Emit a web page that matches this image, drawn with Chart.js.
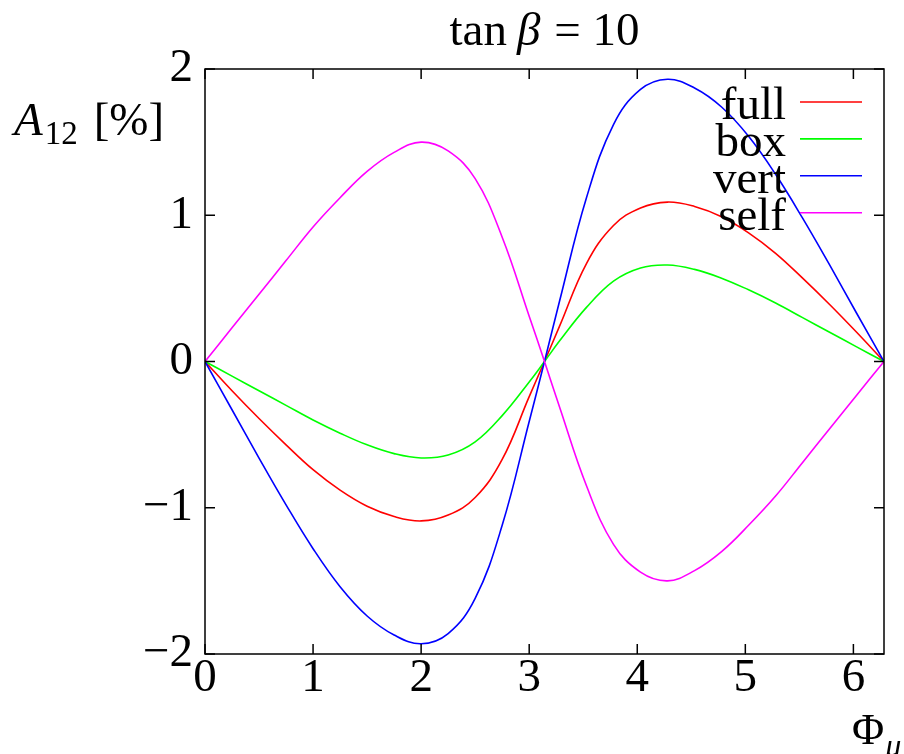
<!DOCTYPE html>
<html>
<head>
<meta charset="utf-8">
<script src="https://cdn.jsdelivr.net/npm/chart.js@4/dist/chart.umd.min.js"></script>
<style>
  html, body { margin: 0; padding: 0; background: #fff; }
  canvas { display: block; }
</style>
</head>
<body>
<canvas id="chartA12" width="904" height="754"></canvas>
<script>
// Phi_mu (rad) sampling and A_12 [%] for each contribution, tan(beta) = 10
const phi  = [0, 0.25, 0.5, 0.75, 1.0, 1.25, 1.5, 1.75, 2.0, 2.25, 2.5, 2.75, 3.0, 3.1416,
              3.28, 3.53, 3.78, 4.03, 4.28, 4.53, 4.78, 5.03, 5.28, 5.53, 5.78, 6.03, 6.2832];
const full = [0, -0.20, -0.39, -0.57, -0.74, -0.88, -0.99, -1.06, -1.09, -1.05, -0.93, -0.67, -0.24, 0,
              0.24, 0.67, 0.93, 1.05, 1.09, 1.06, 0.99, 0.88, 0.74, 0.57, 0.39, 0.20, 0];
const box  = [0, -0.10, -0.20, -0.30, -0.40, -0.49, -0.57, -0.63, -0.66, -0.64, -0.55, -0.37, -0.14, 0,
              0.14, 0.37, 0.55, 0.64, 0.66, 0.63, 0.57, 0.49, 0.40, 0.30, 0.20, 0.10, 0];
const vert = [0, -0.33, -0.66, -0.98, -1.28, -1.54, -1.74, -1.87, -1.93, -1.86, -1.62, -1.12, -0.41, 0,
              0.41, 1.12, 1.62, 1.86, 1.93, 1.87, 1.74, 1.54, 1.28, 0.98, 0.66, 0.33, 0];
const self = [0, 0.23, 0.46, 0.69, 0.92, 1.12, 1.30, 1.43, 1.50, 1.44, 1.25, 0.85, 0.31, 0,
              -0.31, -0.85, -1.25, -1.44, -1.50, -1.43, -1.30, -1.12, -0.92, -0.69, -0.46, -0.23, 0];

const xTicks = [0, 1, 2, 3, 4, 5, 6];
const yTicks = [-2, -1, 0, 1, 2];
const seriesNames  = ['full', 'box', 'vert', 'self'];
const seriesColors = ['#ff0000', '#00ff00', '#0000ff', '#ff00ff'];

const FONT = '"Liberation Serif", "DejaVu Serif", serif';
const FS = 47;      // main text size
const TICK = 10;    // inward tick length

const toPoints = ys => phi.map((x, i) => ({ x: x, y: ys[i] }));

// frame with inward ticks on all four sides (gnuplot style)
const framePlugin = {
    id: 'frame',
    afterDatasetsDraw(chart) {
        const { ctx, chartArea: a, scales: { x, y } } = chart;
        ctx.save();
        ctx.strokeStyle = '#000';
        ctx.lineWidth = 1.5;
        ctx.strokeRect(a.left, a.top, a.right - a.left, a.bottom - a.top);
        ctx.beginPath();
        xTicks.forEach(v => {
            const px = x.getPixelForValue(v);
            ctx.moveTo(px, a.bottom); ctx.lineTo(px, a.bottom - TICK);
            ctx.moveTo(px, a.top);    ctx.lineTo(px, a.top + TICK);
        });
        yTicks.forEach(v => {
            const py = y.getPixelForValue(v);
            ctx.moveTo(a.left, py);  ctx.lineTo(a.left + TICK, py);
            ctx.moveTo(a.right, py); ctx.lineTo(a.right - TICK, py);
        });
        ctx.stroke();
        ctx.restore();
    }
};

// draws a row of text pieces (mixed italic/upright/subscript) left to right
function drawPieces(ctx, x, baseline, pieces) {
    pieces.forEach(p => {
        ctx.font = (p.italic ? 'italic ' : '') + p.size + 'px ' + FONT;
        ctx.fillText(p.text, x, baseline + (p.dy || 0));
        x += ctx.measureText(p.text).width + (p.gap || 0);
    });
}
function piecesWidth(ctx, pieces) {
    return pieces.reduce((w, p) => {
        ctx.font = (p.italic ? 'italic ' : '') + p.size + 'px ' + FONT;
        return w + ctx.measureText(p.text).width + (p.gap || 0);
    }, 0);
}

// title, axis labels and the key (text left of the sample line)
const labelsPlugin = {
    id: 'labels',
    afterDraw(chart) {
        const { ctx, chartArea: a } = chart;
        ctx.save();
        ctx.fillStyle = '#000';
        ctx.textAlign = 'left';
        ctx.textBaseline = 'alphabetic';

        const title = [
            { text: 'tan', size: FS, gap: 10 },
            { text: 'β', size: FS, italic: true, gap: 14 },
            { text: '= 10', size: FS }
        ];
        const tw = piecesWidth(ctx, title);
        drawPieces(ctx, (a.left + a.right) / 2 - tw / 2, 45, title);

        drawPieces(ctx, 14, 135, [
            { text: 'A', size: FS, italic: true, gap: 2 },
            { text: '12', size: 33, dy: 9, gap: 16 },
            { text: '[%]', size: FS }
        ]);

        drawPieces(ctx, 852, 744, [
            { text: 'Φ', size: 44, gap: 1 },
            { text: 'μ', size: 32, italic: true, dy: 12 }
        ]);

        // key
        ctx.font = FS + 'px ' + FONT;
        ctx.textAlign = 'right';
        chart.data.datasets.forEach((ds, i) => {
            const ly = a.top + 33 + i * 36.9;
            ctx.fillText(ds.label, a.right - 98, ly + 17);
            ctx.strokeStyle = ds.borderColor;
            ctx.lineWidth = 1.6;
            ctx.beginPath();
            ctx.moveTo(a.right - 84, ly);
            ctx.lineTo(a.right - 22, ly);
            ctx.stroke();
        });
        ctx.restore();
    }
};

const seriesData = [full, box, vert, self];

new Chart(document.getElementById('chartA12'), {
    type: 'line',
    data: {
        datasets: seriesData.map((ys, i) => ({
            label: seriesNames[i],
            data: toPoints(ys),
            borderColor: seriesColors[i],
            borderWidth: 1.6,
            pointRadius: 0,
            fill: false,
            tension: 0.4,
            order: seriesData.length - i
        }))
    },
    options: {
        responsive: false,
        animation: false,
        layout: { padding: { top: 69, right: 20, left: 0, bottom: 0 } },
        plugins: { legend: { display: false }, tooltip: { enabled: false }, title: { display: false } },
        scales: {
            x: {
                type: 'linear',
                min: 0,
                max: 6.2832,
                afterBuildTicks: s => { s.ticks = xTicks.map(v => ({ value: v })); },
                afterFit: s => { s.height = 100; },
                grid: { display: false, drawTicks: false },
                border: { display: false },
                ticks: {
                    autoSkip: false, maxRotation: 0, padding: -4,
                    color: '#000', font: { family: FONT, size: FS }
                }
            },
            y: {
                type: 'linear',
                min: -2,
                max: 2,
                afterBuildTicks: s => { s.ticks = yTicks.map(v => ({ value: v })); },
                afterFit: s => { s.width = 205; },
                grid: { display: false, drawTicks: false },
                border: { display: false },
                ticks: {
                    padding: 12, color: '#000', font: { family: FONT, size: FS },
                    callback: v => v < 0 ? '\u2212' + Math.abs(v) : String(v)
                }
            }
        }
    },
    plugins: [framePlugin, labelsPlugin]
});
</script>
</body>
</html>
